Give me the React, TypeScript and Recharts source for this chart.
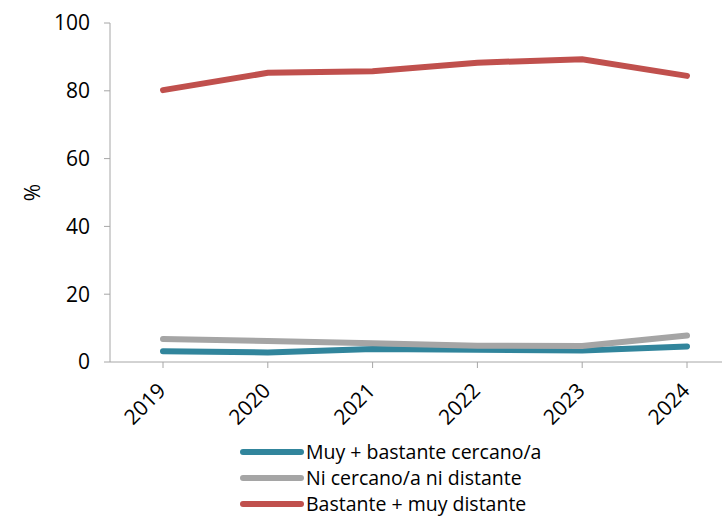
import React from 'react';
import { LineChart, Line, XAxis, YAxis, Legend } from 'recharts';

const years = ['2019', '2020', '2021', '2022', '2023', '2024'];
const cercano = [3.2, 2.8, 3.8, 3.6, 3.4, 4.6];
const neutral = [6.8, 6.2, 5.5, 4.8, 4.7, 7.8];
const distante = [80.2, 85.3, 85.8, 88.3, 89.3, 84.4];
const yTicks = [0, 20, 40, 60, 80, 100];

const seriesInfo = [
  { key: 'cercano', name: 'Muy + bastante cercano/a', color: '#31859C' },
  { key: 'neutral', name: 'Ni cercano/a ni distante', color: '#A5A5A5' },
  { key: 'distante', name: 'Bastante + muy distante', color: '#C0504D' },
];

const data = years.map((year, i) => ({
  year,
  cercano: cercano[i],
  neutral: neutral[i],
  distante: distante[i],
}));

const FONT = '"Open Sans", Lato, sans-serif';
const AXIS = '#A6A6A6';

const YearTick = (props: any) => {
  const { x, y, payload } = props;
  return (
    <g transform={`translate(${x + 4},${y + 22})`}>
      <text
        x={0}
        y={0}
        textAnchor="end"
        transform="rotate(-45)"
        fill="#000"
        fontSize={21}
        fontFamily={FONT}
      >
        {payload.value}
      </text>
    </g>
  );
};

const LegendBox = () => (
  <div style={{ fontFamily: FONT, fontSize: 19.5, color: '#000', lineHeight: '26px' }}>
    {seriesInfo.map((s) => (
      <div key={s.key} style={{ display: 'flex', alignItems: 'center', height: 26 }}>
        <svg width={64} height={8}>
          <line x1={3} y1={4} x2={61} y2={4} stroke={s.color} strokeWidth={6} strokeLinecap="round" />
        </svg>
        <span style={{ marginLeft: 2 }}>{s.name}</span>
      </div>
    ))}
  </div>
);

export default function App() {
  return (
    <div style={{ position: 'absolute', left: 0, top: 0, background: '#fff' }}>
      <LineChart width={727} height={517} data={data} margin={{ top: 23, right: 5, bottom: 10, left: 0 }}>
        <XAxis
          dataKey="year"
          scale="point"
          padding={{ left: 53, right: 35 }}
          height={61}
          stroke={AXIS}
          tickSize={6}
          tick={<YearTick />}
          interval={0}
        />
        <YAxis
          domain={[0, 100]}
          ticks={yTicks}
          width={110}
          stroke={AXIS}
          tickSize={6}
          tickMargin={14}
          tick={{ fill: '#000', fontSize: 21, fontFamily: FONT }}
          label={{ value: '%', angle: -90, position: 'center', dx: -22, fill: '#000', fontSize: 21, fontFamily: FONT }}
        />
        <Legend
          verticalAlign="bottom"
          height={84}
          wrapperStyle={{ top: 439, left: 240, bottom: 'auto', width: 440 }}
          content={<LegendBox />}
        />
        {seriesInfo.map((s) => (
          <Line
            key={s.key}
            dataKey={s.key}
            name={s.name}
            stroke={s.color}
            strokeWidth={6}
            strokeLinecap="round"
            dot={false}
            activeDot={false}
            type="linear"
            isAnimationActive={false}
          />
        ))}
      </LineChart>
    </div>
  );
}
